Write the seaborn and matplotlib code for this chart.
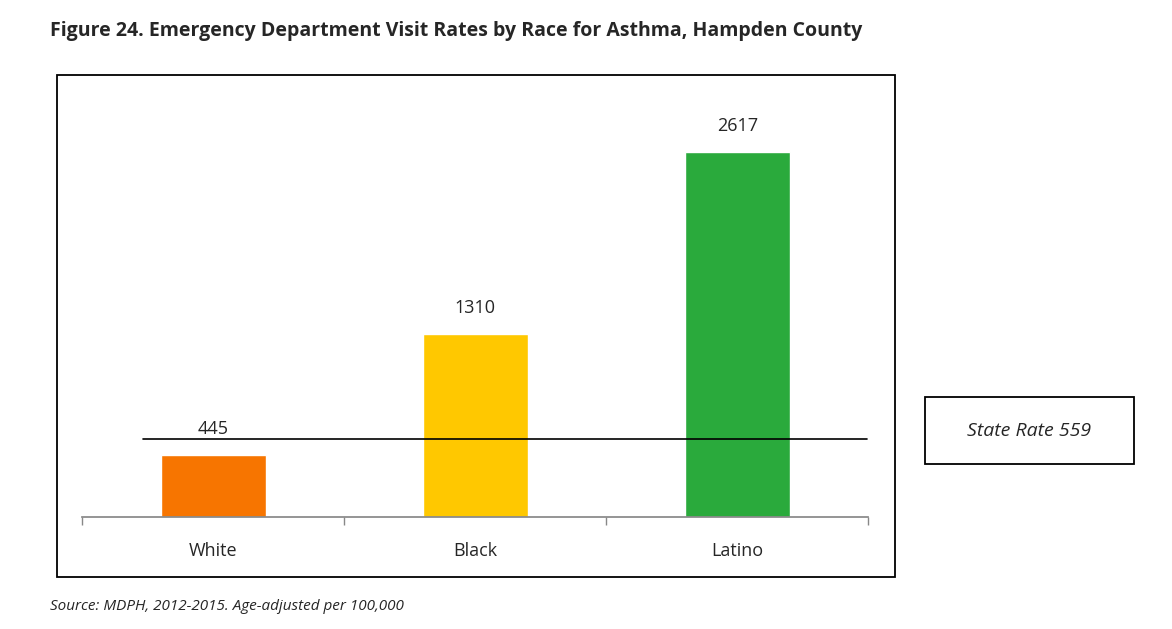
import matplotlib
matplotlib.use("Agg")
import matplotlib.pyplot as plt
import seaborn as sns
import pandas as pd
from matplotlib.patches import Rectangle

categories = ["White", "Black", "Latino"]
values = [445, 1310, 2617]
colors = ["#F77500", "#FFC800", "#2AAA3C"]
state_rate = 559

sns.set_theme(style="white")
plt.rcParams["font.family"] = ["Open Sans", "DejaVu Sans"]

fig = plt.figure(figsize=(11.72, 6.29), dpi=100)
ax = fig.add_axes([0.070, 0.178, 0.671, 0.666])
df = pd.DataFrame({"race": categories, "rate": values})
sns.barplot(data=df, x="race", y="rate", hue="race", palette=colors, width=0.4,
            ax=ax, legend=False, saturation=1)
ax.set_xlim(-0.5, 2.5)
ax.set_ylim(0, 3000)
for s in ["top", "left", "right"]:
    ax.spines[s].set_visible(False)
ax.spines["bottom"].set_color("#888888")
ax.set_yticks([])
ax.set_xlabel("")
ax.set_ylabel("")
ax.set_xticks([0, 1, 2])
ax.set_xticklabels(categories, fontsize=13)
ax.tick_params(axis="x", length=0, pad=18)
ax.set_xticks([-0.5, 0.5, 1.5, 2.5], minor=True)
ax.tick_params(axis="x", which="minor", length=6, color="#888888", bottom=True)
for i, v in enumerate(values):
    ax.text(i, v + 120, str(v), ha="center", va="bottom", fontsize=13)
ax.axhline(state_rate, xmin=0.078, xmax=0.998, color="black", lw=1.2)

# outer chart border
fig.patches.append(Rectangle((57/1172, 1-577/629), (895-57)/1172, (577-75)/629,
                             transform=fig.transFigure, fill=False, ec="black", lw=1.3))
# state rate box
fig.patches.append(Rectangle((925/1172, 1-464/629), (1134-925)/1172, (464-397)/629,
                             transform=fig.transFigure, fill=False, ec="black", lw=1.3))
fig.text(1029/1172, 1-431/629, f"State Rate {state_rate}", ha="center", va="center",
         fontsize=14, style="italic")

fig.text(50/1172, 1-31/629, "Figure 24. Emergency Department Visit Rates by Race for Asthma, Hampden County",
         ha="left", va="center", fontsize=14, fontweight="bold")
fig.text(50/1172, 1-606/629, "Source: MDPH, 2012-2015. Age-adjusted per 100,000",
         ha="left", va="center", fontsize=11, style="italic")

fig.savefig("out.png", dpi=100)
